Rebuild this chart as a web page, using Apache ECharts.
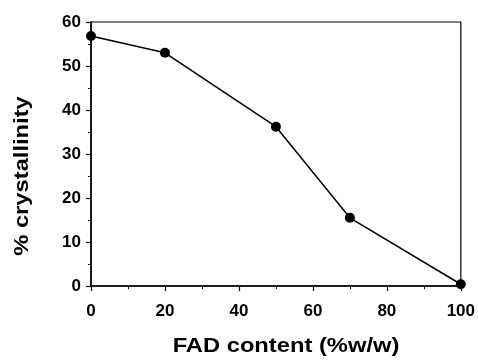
<!DOCTYPE html>
<html><head><meta charset="utf-8">
<script src="https://cdn.jsdelivr.net/npm/echarts@6/dist/echarts.min.js"></script>
<style>html,body{margin:0;padding:0;background:#fff}#c{width:478px;height:360px}</style>
</head><body><div id="c"></div>
<script>
const fadContent = [0, 20, 50, 70, 100];
const crystallinity = [56.8, 53.0, 36.2, 15.5, 0.4];
const xTitle = 'FAD content (%w/w)';
const yTitle = '% crystallinity';

const chart = echarts.init(document.getElementById('c'), null, {renderer: 'canvas'});
const font = '"Liberation Sans", Arial, sans-serif';
chart.setOption({
  animation: false,
  backgroundColor: '#fff',
  grid: {left: 91, right: 16, top: 22, bottom: 74, show: true, borderColor: '#000', borderWidth: 1.2, backgroundColor: 'transparent'},
  graphic: [
    {type: 'text', x: 22, y: 176, rotation: Math.PI / 2, scaleX: 1.13,
     style: {text: yTitle, font: 'bold 21px ' + font, fill: '#000', textAlign: 'center', textVerticalAlign: 'middle'}},
    {type: 'text', x: 286, y: 346, scaleX: 1.13,
     style: {text: xTitle, font: 'bold 21px ' + font, fill: '#000', textAlign: 'center', textVerticalAlign: 'middle'}}
  ],
  xAxis: {
    type: 'value', min: 0, max: 100, interval: 20,
    axisLine: {show: true, lineStyle: {color: '#000', width: 1.5}},
    axisTick: {show: true, length: 5, lineStyle: {color: '#000', width: 1.2}},
    minorTick: {show: true, splitNumber: 2, length: 3, lineStyle: {color: '#000', width: 1}},
    axisLabel: {fontFamily: font, fontWeight: 'bold', fontSize: 17, color: '#000', margin: 17},
    splitLine: {show: false}
  },
  yAxis: {
    type: 'value', min: 0, max: 60, interval: 10,
    axisLine: {show: true, lineStyle: {color: '#000', width: 1.5}},
    axisTick: {show: true, length: 5, lineStyle: {color: '#000', width: 1.2}},
    minorTick: {show: true, splitNumber: 2, length: 3, lineStyle: {color: '#000', width: 1}},
    axisLabel: {fontFamily: font, fontWeight: 'bold', fontSize: 17, color: '#000', margin: 10},
    splitLine: {show: false}
  },
  series: [{
    type: 'line',
    data: fadContent.map((x, i) => [x, crystallinity[i]]),
    symbol: 'circle', symbolSize: 10,
    itemStyle: {color: '#000'},
    lineStyle: {color: '#000', width: 1.5},
    clip: false
  }]
});
</script>
</body></html>
